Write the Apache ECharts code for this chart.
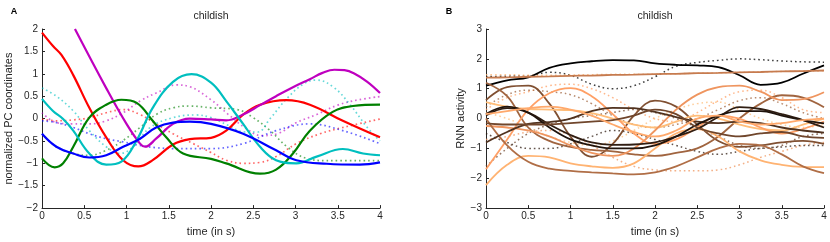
<!DOCTYPE html>
<html>
<head>
<meta charset="utf-8">
<script src="https://cdn.jsdelivr.net/npm/echarts@6/dist/echarts.min.js"></script>
<style>
html,body{margin:0;padding:0;background:#fff;}
#chart{width:830px;height:242px;}
</style>
</head>
<body>
<div id="chart"></div>
<script>
// ---------- Panel A: normalized PC coordinates (time in s, value) ----------
var pcRedSolid = [[0,1.92],[0.13,1.62],[0.23,1.42],[0.37,0.97],[0.56,0.24],[0.76,-0.42],[0.96,-0.93],[1.14,-1.07],[1.31,-0.93],[1.55,-0.58],[1.75,-0.46],[2.0,-0.43],[2.18,-0.27],[2.38,0.09],[2.58,0.31],[2.89,0.41],[3.17,0.31],[3.56,-0.05],[4.0,-0.42]];
var pcMagentaSolid = [[0.39,2.0],[0.76,0.68],[1.0,-0.12],[1.16,-0.56],[1.22,-0.63],[1.35,-0.45],[1.55,-0.12],[1.75,0.0],[2.0,-0.02],[2.18,-0.04],[2.38,0.09],[2.58,0.3],[2.77,0.5],[2.97,0.7],[3.17,0.88],[3.32,1.02],[3.46,1.09],[3.58,1.08],[3.7,1.0],[3.85,0.82],[4.0,0.57]];
var pcGreenSolid = [[0,-0.89],[0.15,-1.09],[0.25,-1.0],[0.37,-0.63],[0.56,0.02],[0.76,0.31],[0.94,0.42],[1.12,0.35],[1.31,-0.05],[1.47,-0.42],[1.67,-0.78],[2.0,-0.9],[2.18,-1.0],[2.58,-1.23],[2.77,-1.14],[2.97,-0.78],[3.17,-0.27],[3.44,0.15],[3.68,0.28],[4.0,0.31]];
var pcCyanSolid = [[0,0.44],[0.13,0.17],[0.25,-0.01],[0.37,-0.27],[0.56,-0.78],[0.76,-1.03],[0.94,-0.96],[1.12,-0.49],[1.31,0.24],[1.55,0.82],[1.77,0.99],[2.0,0.8],[2.18,0.39],[2.38,-0.12],[2.58,-0.63],[2.77,-0.93],[3.01,-1.0],[3.25,-0.85],[3.56,-0.68],[3.8,-0.78],[4.0,-0.82]];
var pcBlueSolid = [[0,-0.34],[0.17,-0.63],[0.37,-0.78],[0.56,-0.87],[0.76,-0.82],[0.96,-0.63],[1.16,-0.45],[1.35,-0.2],[1.55,-0.09],[1.75,-0.07],[2.0,-0.12],[2.38,-0.34],[2.77,-0.71],[3.01,-0.93],[3.37,-1.01],[3.76,-1.03],[4.0,-0.98]];

var pcRedDot = [[0,-0.01],[0.17,-0.05],[0.37,-0.03],[0.56,0.02],[0.76,0.13],[0.96,0.2],[1.16,0.09],[1.35,-0.12],[1.55,-0.34],[1.79,-0.56],[2.0,-0.76],[2.18,-0.93],[2.38,-1.0],[2.58,-0.98],[2.77,-0.85],[3.01,-0.56],[3.29,-0.34],[3.56,-0.2],[4.0,-0.01]];
var pcMagentaDot = [[0,0.13],[0.17,-0.09],[0.37,-0.12],[0.56,-0.12],[0.76,-0.05],[0.96,0.13],[1.16,0.39],[1.35,0.57],[1.59,0.75],[1.75,0.71],[2.0,0.42],[2.2,0.1],[2.4,-0.2],[2.6,-0.38],[2.8,-0.33],[3.0,-0.1],[3.25,0.09],[3.5,0.3],[3.75,0.42],[4.0,0.49]];
var pcGreenDot = [[0,-0.34],[0.17,-0.63],[0.37,-0.78],[0.56,-0.82],[0.76,-0.71],[0.96,-0.49],[1.16,-0.2],[1.35,0.09],[1.55,0.24],[1.75,0.28],[2.0,0.24],[2.31,0.2],[2.5,0.02],[2.7,-0.27],[2.9,-0.63],[3.13,-0.89],[3.37,-0.94],[4.0,-0.94]];
var pcCyanDot = [[0,0.68],[0.17,0.5],[0.37,0.17],[0.56,-0.27],[0.76,-0.63],[0.92,-0.78],[1.08,-0.63],[1.28,-0.2],[1.55,0.02],[1.82,0.08],[2.0,0.02],[2.2,-0.15],[2.4,-0.3],[2.55,-0.3],[2.7,0.0],[2.9,0.45],[3.1,0.78],[3.25,0.86],[3.45,0.7],[3.65,0.3],[3.85,-0.2],[4.0,-0.5]];
var pcBlueDot = [[0,-0.05],[0.17,-0.09],[0.37,-0.2],[0.56,-0.34],[0.76,-0.45],[0.96,-0.52],[1.16,-0.6],[1.35,-0.65],[1.55,-0.67],[2.0,-0.67],[2.38,-0.56],[2.77,-0.27],[3.17,-0.12],[3.56,-0.27],[4.0,-0.56]];

// ---------- Panel B: RNN activity, sampled on a shared time grid ----------
var rnnTime = [0,0.25,0.5,0.75,1,1.25,1.5,1.75,2,2.25,2.5,2.75,3,3.25,3.5,3.75,4];
var rnnSolid = [
  {c:'#000000', v:[1.1,1.28,1.38,1.7,1.85,1.92,1.96,1.95,1.85,1.8,1.78,1.72,1.45,1.13,1.2,1.5,1.78]},
  {c:'#c67b4f', v:[1.37,1.38,1.40,1.41,1.43,1.44,1.46,1.47,1.49,1.50,1.52,1.53,1.55,1.56,1.58,1.59,1.61]},
  {c:'#805032', v:[0.62,1.05,1.1,0.5,-0.6,-1.28,-0.85,0.1,0.6,0.4,-0.2,-0.75,-0.95,-0.9,-0.8,-0.75,-0.85]},
  {c:'#a0643f', v:[1.2,0.75,-0.3,-0.75,-0.95,-1.05,-1.1,-1.2,-1.25,-1.15,-1.0,-0.6,0.0,0.5,0.78,0.7,0.38]},
  {c:'#ffbd79', v:[0.55,0.4,0.32,0.3,0.28,0.18,0.0,-0.2,-0.3,-0.1,0.1,0.0,-0.2,-0.35,-0.4,-0.2,0.0]},
  {c:'#ffa066', v:[-1.7,-0.7,0.3,0.85,1.02,0.75,0.15,-0.5,-0.85,-0.7,-0.3,0.1,0.0,-0.3,-0.5,-0.35,-0.1]},
  {c:'#ef955f', v:[-0.25,-0.3,-0.4,-0.6,-0.9,-1.15,-1.25,-1.0,-0.4,0.3,0.8,1.05,1.1,0.9,0.62,0.65,0.88]},
  {c:'#ffb372', v:[-2.23,-1.55,-1.25,-1.3,-1.5,-1.6,-1.65,-1.5,-1.0,-0.5,-0.35,-0.6,-1.1,-1.4,-1.55,-1.62,-1.63]},
  {c:'#b06e46', v:[0.0,-0.9,-1.45,-1.68,-1.75,-1.8,-1.84,-1.87,-1.8,-1.6,-1.3,-1.0,-0.85,-0.9,-1.2,-1.6,-1.83]},
  {c:'#301e13', v:[0.1,0.35,0.2,-0.2,-0.55,-0.8,-0.88,-0.87,-0.8,-0.6,-0.35,0.05,0.38,0.32,0.15,-0.05,-0.3]},
  {c:'#50321f', v:[-0.8,-0.45,-0.18,-0.12,0.0,0.25,0.36,0.35,0.22,0.05,-0.1,-0.15,-0.1,-0.15,-0.3,-0.4,-0.47]},
  {c:'#20140d', v:[0.15,0.4,0.2,-0.3,-0.7,-0.9,-1.0,-1.0,-0.9,-0.6,-0.2,0.1,0.25,0.25,0.1,-0.05,-0.16]},
  {c:'#70462c', v:[-0.15,-0.2,-0.2,-0.2,-0.15,-0.1,-0.05,0.1,0.3,0.15,-0.3,-0.5,-0.6,-0.5,-0.45,-0.6,-0.65]},
  {c:'#ffa96c', v:[0.15,0.25,0.35,0.4,0.3,0.1,-0.2,-0.45,-0.6,-0.4,0.0,0.1,-0.1,-0.2,-0.15,-0.05,0.0]}
];
var rnnDotted = [
  {c:'#000000', v:[1.4,1.42,1.43,1.55,1.45,1.15,1.0,1.1,1.4,1.75,1.88,1.95,2.0,1.97,1.93,1.9,1.89]},
  {c:'#ffb372', v:[1.47,1.47,1.45,1.45,1.46,1.47,1.48,1.48,1.49,1.5,1.52,1.53,1.55,1.56,1.58,1.59,1.6]},
  {c:'#ffa066', v:[0.3,0.7,0.9,1.1,1.15,1.0,0.7,0.3,0.0,-0.1,0.2,0.6,0.9,0.95,0.7,0.3,0.2]},
  {c:'#70462c', v:[-1.6,-1.0,-0.5,-0.2,0.0,0.1,0.2,0.3,0.2,0.0,-0.3,-0.6,-0.9,-1.0,-0.9,-0.6,-0.5]},
  {c:'#ef955f', v:[-0.7,-0.6,-0.45,-0.4,-0.55,-0.9,-1.3,-1.6,-1.72,-1.75,-1.75,-1.72,-1.55,-1.3,-1.1,-0.9,-0.8]},
  {c:'#ffbd79', v:[0.2,0.0,-0.3,-0.6,-0.8,-0.9,-0.75,-0.4,0.0,0.3,0.5,0.55,0.3,0.0,-0.2,-0.3,-0.2]},
  {c:'#a0643f', v:[0.4,0.8,0.95,0.9,0.8,0.5,0.1,-0.2,-0.3,-0.2,0.0,0.3,0.6,0.7,0.5,0.2,0.0]},
  {c:'#301e13', v:[-0.5,-0.8,-1.0,-1.0,-0.85,-0.6,-0.4,-0.5,-0.7,-0.9,-1.1,-1.2,-1.1,-1.0,-0.95,-0.9,-0.9]}
];

// axis ticks
var pcYMin = -2, pcYMax = 2, pcYStep = 0.5;
var rnnYMin = -3, rnnYMax = 3, rnnYStep = 1;
var tMin = 0, tMax = 4, tStep = 0.5;

var FONT = 'Liberation Sans, Arial, Helvetica, sans-serif';
var AX = '#262626';
function fmt(v){ return String(v).replace('-', '\u2212'); }

function xAx(gi){
  return {
    type:'value', gridIndex:gi, min:tMin, max:tMax, interval:tStep,
    name:'time (in s)', nameLocation:'middle', nameGap:12,
    nameTextStyle:{color:AX, fontSize:11, fontFamily:FONT},
    axisLine:{show:true, onZero:false, lineStyle:{color:AX, width:1}},
    axisTick:{show:true, inside:true, length:3, lineStyle:{color:AX}},
    axisLabel:{color:AX, fontSize:10, fontFamily:FONT, margin:3, formatter:fmt},
    splitLine:{show:false}
  };
}
function yAx(gi, mn, mx, st, name, gap){
  return {
    type:'value', gridIndex:gi, min:mn, max:mx, interval:st,
    name:name, nameLocation:'middle', nameGap:gap, nameRotate:90,
    nameTextStyle:{color:AX, fontSize:11, fontFamily:FONT},
    axisLine:{show:true, onZero:false, lineStyle:{color:AX, width:1}},
    axisTick:{show:true, inside:true, length:3, lineStyle:{color:AX}},
    axisLabel:{color:AX, fontSize:10, fontFamily:FONT, margin:4, formatter:fmt},
    splitLine:{show:false}
  };
}

var series = [];
function addLine(data, gi, color, width, dotted, opacity){
  series.push({
    type:'line', xAxisIndex:gi, yAxisIndex:gi, data:data,
    smooth:0.4, showSymbol:false, symbol:'none', clip:true,
    lineStyle:{color:color, width:width, type: dotted ? [1.6,3] : 'solid', opacity:opacity},
    silent:true, z: dotted ? 2 : 3
  });
}
// Panel A dotted then solid
[[pcRedDot,'#ff0000'],[pcMagentaDot,'#bf00bf'],[pcGreenDot,'#008000'],[pcCyanDot,'#00bfbf'],[pcBlueDot,'#0000ff']].forEach(function(p){
  addLine(p[0], 0, p[1], 1.7, true, 0.6);
});
[[pcRedSolid,'#ff0000'],[pcMagentaSolid,'#bf00bf'],[pcGreenSolid,'#008000'],[pcCyanSolid,'#00bfbf'],[pcBlueSolid,'#0000ff']].forEach(function(p){
  addLine(p[0], 0, p[1], 2.2, false, 1);
});
// Panel B
function zipT(vals){ return vals.map(function(v,i){ return [rnnTime[i], v]; }); }
rnnDotted.forEach(function(s){ addLine(zipT(s.v), 1, s.c, 1.5, true, 0.75); });
rnnSolid.forEach(function(s){ addLine(zipT(s.v), 1, s.c, 1.8, false, 1); });

var chart = echarts.init(document.getElementById('chart'), null, {renderer:'canvas'});
chart.setOption({
  animation:false,
  backgroundColor:'#ffffff',
  grid:[
    {left:42, top:29, width:338, height:183, containLabel:false},
    {left:486, top:29, width:338, height:183, containLabel:false}
  ],
  xAxis:[xAx(0), xAx(1)],
  yAxis:[
    yAx(0, pcYMin, pcYMax, pcYStep, 'normalized PC coordinates', 28),
    yAx(1, rnnYMin, rnnYMax, rnnYStep, 'RNN activity', 20)
  ],
  graphic:[
    {type:'text', x:14, y:12, style:{text:'A', font:'bold 9px '+FONT, fill:'#000', align:'center', verticalAlign:'middle'}},
    {type:'text', x:449, y:12, style:{text:'B', font:'bold 9px '+FONT, fill:'#000', align:'center', verticalAlign:'middle'}},
    {type:'text', x:211, y:16, style:{text:'childish', font:'10.5px '+FONT, fill:AX, align:'center', verticalAlign:'middle'}},
    {type:'text', x:655, y:16, style:{text:'childish', font:'10.5px '+FONT, fill:AX, align:'center', verticalAlign:'middle'}}
  ],
  series:series
});
</script>
</body>
</html>
